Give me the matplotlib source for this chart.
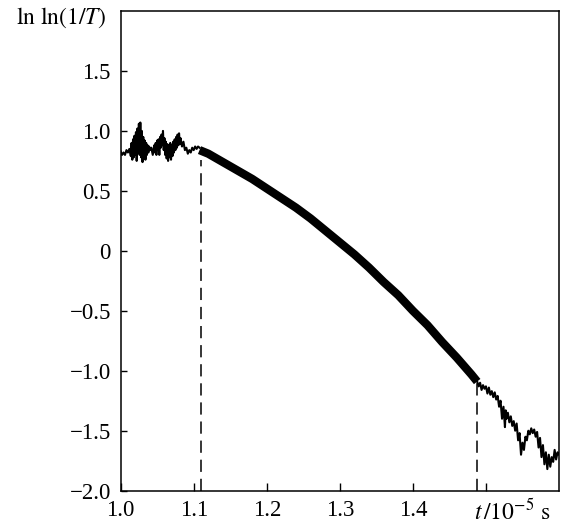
import numpy as np
import matplotlib
matplotlib.use("Agg")
import matplotlib.pyplot as plt

plt.rcParams['font.family'] = ['Liberation Serif', 'DejaVu Serif']
plt.rcParams['mathtext.fontset'] = 'stix'

# noisy signal before the fit region (t in 1e-5 s, ln ln(1/T))
t_left = [1.000, 1.002, 1.004, 1.006, 1.008, 1.010, 1.012, 1.014, 1.015, 1.016,
          1.017, 1.018, 1.019, 1.020, 1.021, 1.022, 1.023, 1.024, 1.025, 1.026,
          1.027, 1.028, 1.029, 1.030, 1.031, 1.032, 1.033, 1.034, 1.035, 1.036,
          1.037, 1.038, 1.039, 1.040, 1.042, 1.044, 1.046, 1.047, 1.048, 1.049,
          1.050, 1.051, 1.052, 1.053, 1.054, 1.055, 1.056, 1.057, 1.058, 1.059,
          1.060, 1.061, 1.062, 1.063, 1.064, 1.065, 1.066, 1.067, 1.068, 1.069,
          1.070, 1.071, 1.072, 1.073, 1.074, 1.075, 1.076, 1.077, 1.078, 1.079,
          1.080, 1.081, 1.082, 1.084, 1.086, 1.088, 1.090, 1.092, 1.094, 1.096,
          1.098, 1.100, 1.102, 1.104, 1.106, 1.108]
v_left = [0.83, 0.80, 0.82, 0.80, 0.84, 0.82, 0.85, 0.79, 0.90, 0.76,
          0.93, 0.78, 0.96, 0.80, 0.99, 0.75, 1.02, 0.82, 1.06, 0.80,
          1.07, 0.78, 1.00, 0.74, 0.95, 0.77, 0.92, 0.76, 0.90, 0.80,
          0.88, 0.82, 0.87, 0.84, 0.86, 0.80, 0.88, 0.82, 0.90, 0.80,
          0.92, 0.84, 0.93, 0.80, 0.95, 0.86, 0.97, 0.88, 1.00, 0.84,
          0.94, 0.80, 0.91, 0.77, 0.89, 0.75, 0.88, 0.78, 0.90, 0.76,
          0.88, 0.79, 0.91, 0.82, 0.93, 0.84, 0.95, 0.86, 0.97, 0.88,
          0.98, 0.89, 0.94, 0.87, 0.91, 0.84, 0.86, 0.81, 0.84, 0.82,
          0.86, 0.84, 0.87, 0.85, 0.87, 0.86]

# smooth thick part between the dashed markers
t_mid = [1.108, 1.12, 1.14, 1.16, 1.18, 1.20, 1.22, 1.24, 1.26, 1.28, 1.30,
         1.32, 1.34, 1.36, 1.38, 1.40, 1.42, 1.44, 1.46, 1.48, 1.488]
v_mid = [0.84, 0.81, 0.74, 0.67, 0.60, 0.52, 0.44, 0.36, 0.27, 0.17, 0.07,
         -0.03, -0.14, -0.26, -0.37, -0.50, -0.62, -0.76, -0.89, -1.03, -1.09]

# noisy tail
t_right = [1.488, 1.490, 1.492, 1.494, 1.496, 1.498, 1.500, 1.502, 1.504, 1.506,
           1.508, 1.510, 1.512, 1.514, 1.516, 1.518, 1.520, 1.522, 1.524, 1.526,
           1.527, 1.528, 1.530, 1.532, 1.534, 1.536, 1.538, 1.540, 1.542, 1.544,
           1.546, 1.548, 1.550, 1.552, 1.554, 1.556, 1.558, 1.560, 1.562, 1.564,
           1.566, 1.568, 1.570, 1.572, 1.574, 1.576, 1.578, 1.580, 1.582, 1.584,
           1.586, 1.588, 1.590, 1.592, 1.594, 1.596, 1.598, 1.600]
v_right = [-1.09, -1.13, -1.10, -1.16, -1.12, -1.15, -1.13, -1.19, -1.14, -1.20,
           -1.17, -1.22, -1.18, -1.24, -1.21, -1.30, -1.25, -1.40, -1.30, -1.47,
           -1.33, -1.40, -1.35, -1.43, -1.38, -1.46, -1.42, -1.50, -1.44, -1.58,
           -1.52, -1.70, -1.60, -1.66, -1.55, -1.58, -1.50, -1.53, -1.48, -1.52,
           -1.49, -1.55, -1.51, -1.64, -1.56, -1.72, -1.62, -1.78, -1.68, -1.82,
           -1.70, -1.80, -1.72, -1.76, -1.66, -1.74, -1.68, -1.70]

# dashed markers: (t, top of dash)
dash_t = [1.1095, 1.488]
dash_top = [0.76, -1.10]

xticks = [1.0, 1.1, 1.2, 1.3, 1.4, 1.5]
xlabels = ['1.0', '1.1', '1.2', '1.3', '1.4', '']
yticks = [-2.0, -1.5, -1.0, -0.5, 0.0, 0.5, 1.0, 1.5]
ylabels = ['\u22122.0', '\u22121.5', '\u22121.0', '\u22120.5', '0', '0.5', '1.0', '1.5']

fig = plt.figure(figsize=(5.62, 5.24), dpi=100)
ax = fig.add_axes([0.2146, 0.0636, 0.7801, 0.9154])

ax.plot(t_left, v_left, color='black', lw=1.5)
ax.plot(t_mid, v_mid, color='black', lw=6.0, solid_capstyle='butt')
ax.plot(t_right, v_right, color='black', lw=1.5)
for t, top in zip(dash_t, dash_top):
    ax.plot([t, t], [-2.0, top], color='black', lw=1.1, linestyle=(0, (8, 4.5)))

ax.set_xlim(1.0, 1.6)
ax.set_ylim(-2.0, 2.0)
ax.set_xticks(xticks)
ax.set_xticklabels(xlabels)
ax.set_yticks(yticks)
ax.set_yticklabels(ylabels)
ax.tick_params(axis='both', direction='in', labelsize=16.5, width=1.0, pad=7)
ax.tick_params(axis='x', length=5.5)
ax.tick_params(axis='y', length=4.5)
for s in ax.spines.values():
    s.set_linewidth(1.1)

fig.text(107 / 562, 1 - 18 / 524, r'$\mathrm{ln}\ \mathrm{ln}(1/T)$', fontsize=17,
         ha='right', va='center')
fig.text(512 / 562, 1 - 519 / 524, r'$t\,/10^{-5}\ \mathrm{s}$', fontsize=17,
         ha='center', va='baseline')

fig.savefig('out.png', dpi=100)
